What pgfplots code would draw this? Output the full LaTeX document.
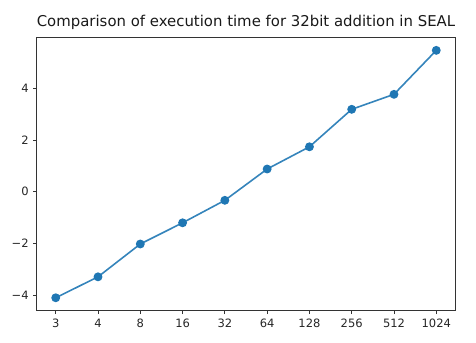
\documentclass[border=0pt]{standalone}
\usepackage{fontspec}
\setmainfont{DejaVu Sans}
\usepackage{pgfplots}
\pgfplotsset{compat=1.18}
\definecolor{mplblue}{HTML}{1F77B4}
\definecolor{spine}{HTML}{333333}

\begin{document}
\begin{tikzpicture}
\begin{axis}[
  scale only axis,
  width=418.6pt, height=273pt,
  xmin=-0.45, xmax=9.45,
  ymin=-4.60, ymax=5.96,
  xtick={0,...,9},
  xticklabels={3,4,8,16,32,64,128,256,512,1024},
  ytick={-4,-2,0,2,4},
  yticklabels={−4,−2,0,2,4},
  axis line style={spine, line width=0.8pt},
  tick style={spine, line width=0.8pt},
  tick align=outside,
  major tick length=3.5pt,
  xtick pos=bottom, ytick pos=left,
  tick label style={font=\fontsize{11.5}{13}\selectfont, text=black!85},
  yticklabel style={xshift=-1pt},
  xticklabel style={yshift=-1.5pt},
  /pgf/number format/assume math mode=true,
  title={Comparison of execution time for 32bit addition in SEAL},
  title style={font=\fontsize{14.9}{16}\selectfont, at={(0.5,1)}, anchor=south, inner sep=0pt, yshift=1.8pt, text=black!90},
]
\addplot[color=mplblue, draw opacity=0.9, line width=1.6pt,
  mark=*, mark size=3.6pt, mark options={fill=mplblue, draw=mplblue, draw opacity=1}]
  coordinates {
  (0,-4.10) (1,-3.29) (2,-2.02) (3,-1.20) (4,-0.33)
  (5,0.88) (6,1.74) (7,3.19) (8,3.77) (9,5.47)
};
\end{axis}
\useasboundingbox ([xshift=-36.7pt,yshift=-32.3pt]current axis.south west)
  rectangle ([xshift=20.7pt,yshift=37.7pt]current axis.north east);
\end{tikzpicture}
\end{document}
